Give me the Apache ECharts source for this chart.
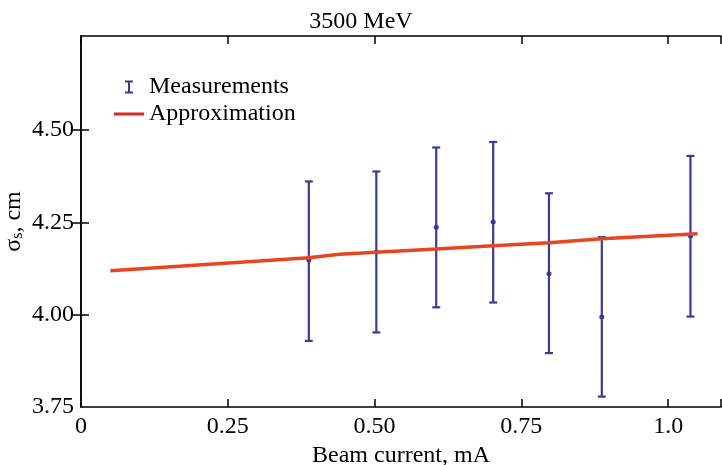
<!DOCTYPE html>
<html>
<head>
<meta charset="utf-8">
<script src="https://cdn.jsdelivr.net/npm/echarts@6/dist/echarts.min.js"></script>
<style>
    html, body { margin: 0; padding: 0; background: #fff; }
    #chart { width: 722px; height: 465px; }
</style>
</head>
<body>
<div id="chart"></div>
<script>
// measurements (beam current, sigma_s, error bar ends)
var measX = [0.388, 0.503, 0.605, 0.702, 0.797, 0.887, 1.038];
var measY = [4.148, 4.170, 4.237, 4.251, 4.111, 3.994, 4.213];
var measLow = [3.929, 3.952, 4.020, 4.033, 3.896, 3.778, 3.995];
var measHigh = [4.361, 4.388, 4.453, 4.468, 4.329, 4.210, 4.430];

// approximation curve
var approxX = [0.05, 0.388, 0.44, 0.503, 0.605, 0.702, 0.797, 0.887, 1.05];
var approxY = [4.119, 4.154, 4.164, 4.169, 4.178, 4.187, 4.195, 4.206, 4.219];

var xTicks = [0, 0.25, 0.5, 0.75, 1.0];
var yTicks = [3.75, 4.0, 4.25, 4.5];

var FONT = 'Liberation Serif';
var FS = 24;
var BLUE = '#3b3a94';
var RED = '#e8441e';

var chart = echarts.init(document.getElementById('chart'));

function xLabel(v) {
    if (v === 0) return '0';
    if (Math.abs(v - 1) < 1e-9) return '1.0';
    return v.toFixed(2);
}

var errData = measX.map(function (x, i) {
    return [x, measY[i], measLow[i], measHigh[i]];
});
var lineData = approxX.map(function (x, i) {
    return [x, approxY[i]];
});

function renderErr(params, api) {
    var x = api.value(0);
    var c = api.coord([x, api.value(1)]);
    var lo = api.coord([x, api.value(2)]);
    var hi = api.coord([x, api.value(3)]);
    var half = 4;
    var st = { stroke: BLUE, lineWidth: 2.2 };
    return {
        type: 'group',
        children: [
            { type: 'line', shape: { x1: lo[0], y1: lo[1], x2: hi[0], y2: hi[1] }, style: st },
            { type: 'line', shape: { x1: lo[0] - half, y1: lo[1], x2: lo[0] + half, y2: lo[1] }, style: st },
            { type: 'line', shape: { x1: hi[0] - half, y1: hi[1], x2: hi[0] + half, y2: hi[1] }, style: st },
            { type: 'circle', shape: { cx: c[0], cy: c[1], r: 2.5 }, style: { fill: BLUE } }
        ]
    };
}

var axisLine = { show: true, lineStyle: { color: '#000', width: 1.5 } };
var tick = { show: true, inside: true, length: 8, lineStyle: { color: '#000', width: 1.5 } };
var yTick = { show: true, inside: true, length: 8, lineStyle: { color: '#000', width: 1.5 }, customValues: [4.0, 4.25, 4.5] };

var option = {
    backgroundColor: '#fff',
    animation: false,
    title: {
        text: '3500 MeV',
        left: 'center',
        top: 5,
        textStyle: { fontFamily: FONT, fontSize: FS, fontWeight: 'normal', color: '#000' }
    },
    legend: [{
        data: ['Measurements'],
        left: 120,
        top: 70,
        itemWidth: 8,
        itemHeight: 13,
        icon: 'path://M0,0H8V2H5V11H8V13H0V11H3V2H0Z',
        textStyle: { fontFamily: FONT, fontSize: FS, color: '#000', padding: [0, 0, 0, 11] }
    }, {
        data: ['Approximation'],
        left: 109,
        top: 97,
        itemWidth: 30,
        itemHeight: 3,
        icon: 'rect',
        itemStyle: { color: '#d42a26' },
        textStyle: { fontFamily: FONT, fontSize: FS, color: '#000' }
    }],
    grid: { left: 81, right: 1, top: 36, bottom: 58, containLabel: false, outerBoundsMode: 'none' },
    xAxis: [{
        type: 'value',
        min: 0,
        max: 1.09,
        interval: 0.25,
        name: 'Beam current, mA',
        nameLocation: 'middle',
        nameGap: 31,
        nameTextStyle: { fontFamily: FONT, fontSize: FS, color: '#000' },
        axisLine: axisLine,
        axisTick: tick,
        splitLine: { show: false },
        axisLabel: {
            fontFamily: FONT, fontSize: FS, color: '#000', margin: 8,
            customValues: xTicks,
            formatter: xLabel
        }
    }, {
        type: 'value',
        position: 'top',
        min: 0,
        max: 1.09,
        interval: 0.25,
        axisLine: axisLine,
        axisTick: tick,
        axisLabel: { show: false },
        splitLine: { show: false }
    }],
    yAxis: [{
        type: 'value',
        min: 3.75,
        max: 4.755,
        interval: 0.25,
        name: '{a|σ}{b|s}{a|, cm}',
        nameLocation: 'middle',
        nameGap: 55,
        nameMoveOverlap: false,
        nameTextStyle: {
            rich: {
                a: { fontFamily: FONT, fontSize: FS, color: '#000' },
                b: { fontFamily: FONT, fontSize: 16, color: '#000', verticalAlign: 'bottom', padding: [8, 0, 0, 0] }
            }
        },
        axisLine: axisLine,
        axisTick: yTick,
        splitLine: { show: false },
        axisLabel: {
            fontFamily: FONT, fontSize: FS, color: '#000', margin: 7,
            customValues: yTicks,
            formatter: function (v) { return v.toFixed(2); }
        }
    }, {
        type: 'value',
        position: 'right',
        min: 3.75,
        max: 4.755,
        interval: 0.25,
        axisLine: axisLine,
        axisTick: yTick,
        axisLabel: { show: false },
        splitLine: { show: false }
    }],
    series: [{
        name: 'Measurements',
        type: 'custom',
        renderItem: renderErr,
        itemStyle: { color: BLUE },
        encode: { x: 0, y: [1, 2, 3] },
        data: errData,
        z: 2
    }, {
        name: 'Approximation',
        type: 'line',
        data: lineData,
        showSymbol: false,
        symbol: 'none',
        lineStyle: { color: RED, width: 3.5 },
        itemStyle: { color: '#d42a26' },
        z: 3
    }]
};

chart.setOption(option);
</script>
</body>
</html>
